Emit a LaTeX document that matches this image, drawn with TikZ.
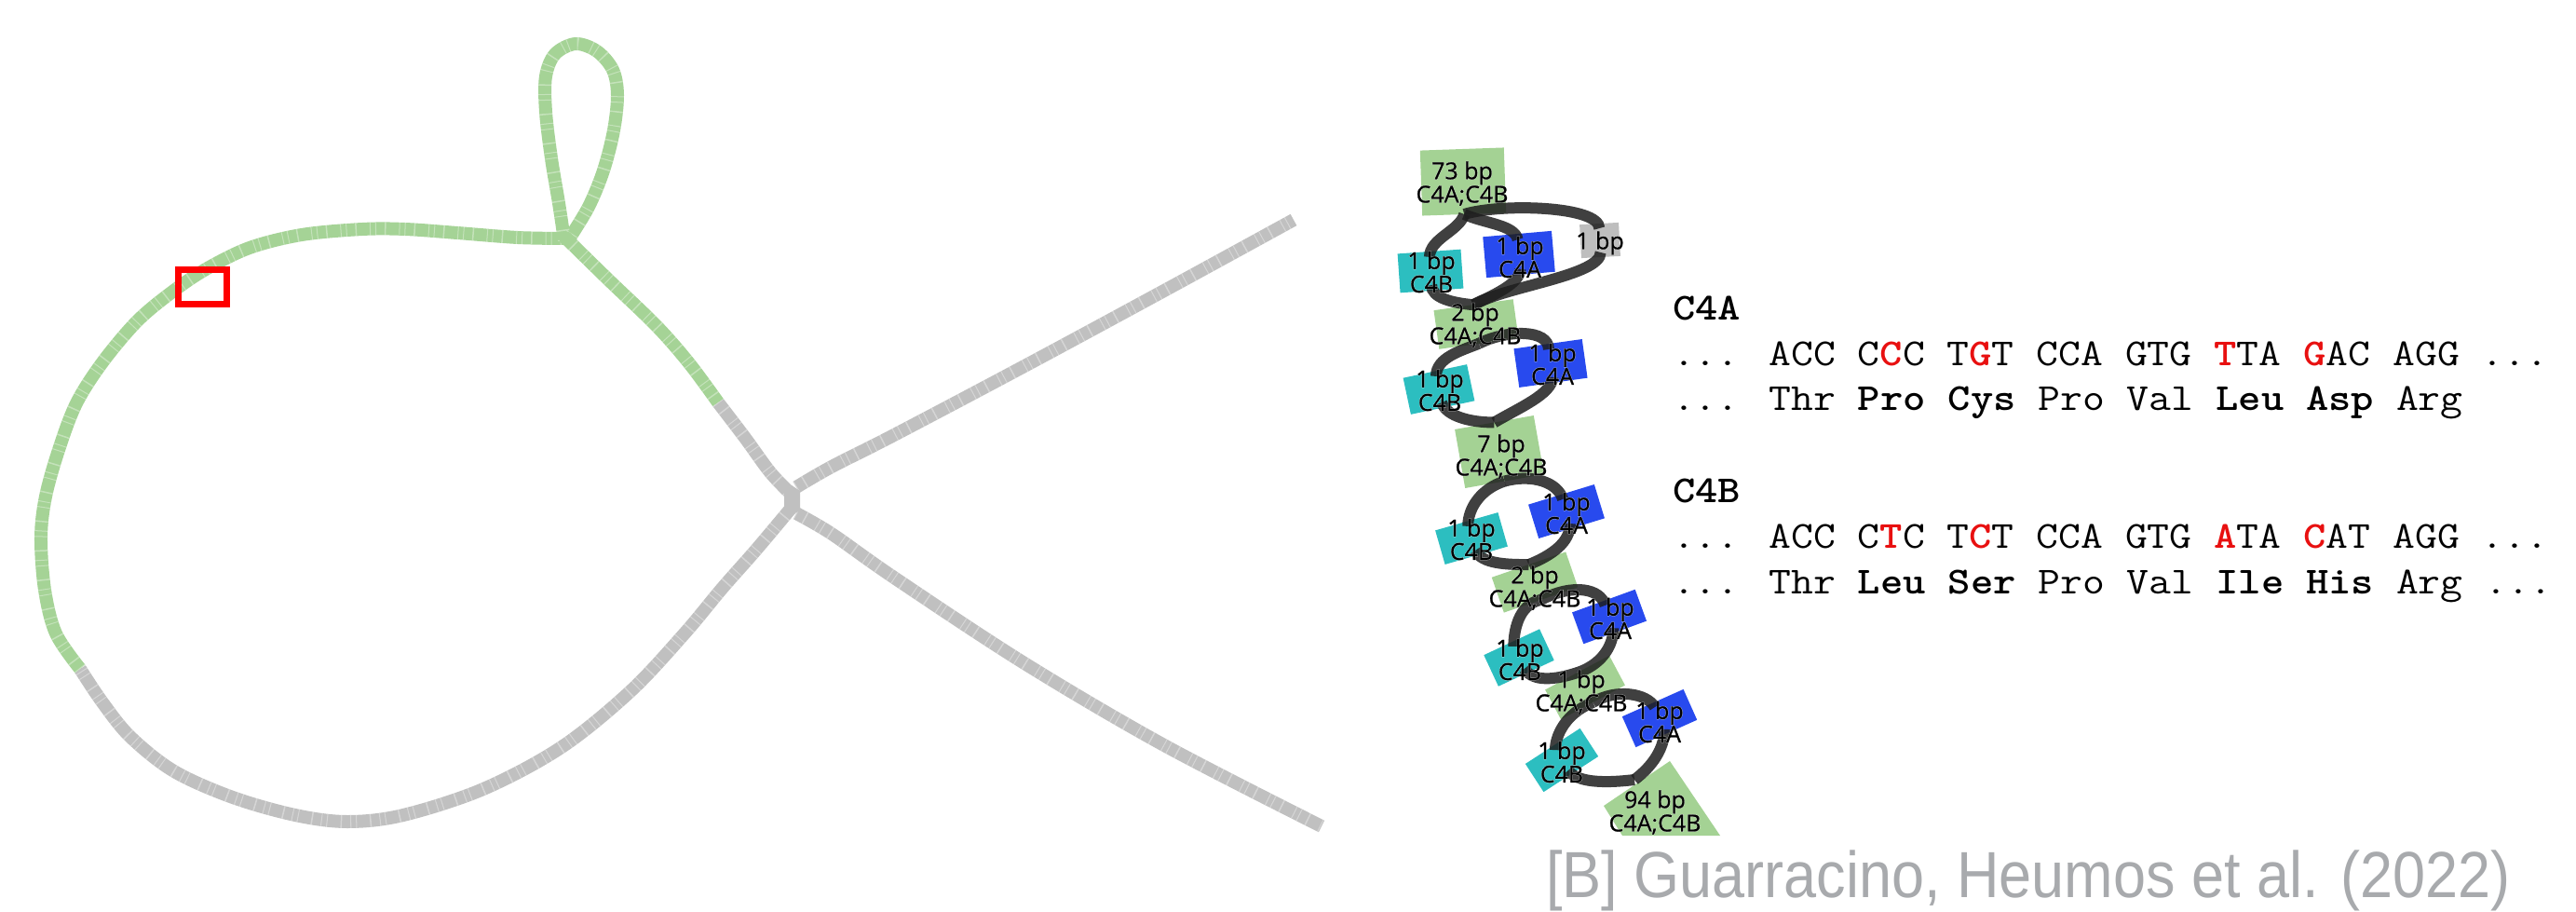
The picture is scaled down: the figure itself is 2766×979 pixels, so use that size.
\documentclass[tikz,border=0pt]{standalone}
\usepackage{fontspec}
\newfontfamily\lblfont{Open Sans}[FakeBold=1]
\newfontfamily\halofont{Open Sans}[FakeBold=3.5]
\newfontfamily\capfont{Liberation Sans}
\usetikzlibrary{calc}

\definecolor{graphgreen}{RGB}{165,211,150}
\definecolor{graphgray}{RGB}{192,192,192}
\definecolor{nodegreen}{RGB}{164,210,148}
\definecolor{nodeteal}{RGB}{44,190,192}
\definecolor{nodeblue}{RGB}{40,74,238}
\definecolor{nodegray}{RGB}{190,190,190}
\definecolor{linkdark}{RGB}{30,30,30}
\definecolor{mutred}{RGB}{232,16,16}
\definecolor{capgray}{RGB}{168,170,173}

\newcommand\mut[1]{\textcolor{mutred}{\textbf{#1}}}
% label with a white halo underneath
\newcommand\lab[3]{\node[halo] (#1h) at #2 {#3}; \node[lbl] (#1) at #2 {#3};}

\begin{document}
\begin{tikzpicture}[x=1pt,y=-1pt,
  grain/.style={postaction={draw=white, draw opacity=0.35, line width=14pt, dash pattern=on 1pt off 9pt on 1.5pt off 14pt on 1pt off 5pt}},
  greenline/.style={draw=graphgreen, line width=14pt, line cap=butt, line join=round, grain},
  grayline/.style={draw=graphgray, line width=14pt, line cap=butt, line join=round, grain},
  blk/.style n args={3}{fill=#1, minimum width=#2, minimum height=#3, inner sep=0pt, outer sep=0pt},
  link/.style={draw=linkdark, draw opacity=0.85, line width=12pt, line cap=butt},
  lbl/.style={font=\lblfont\fontsize{25}{23}\selectfont, align=center, inner sep=0pt},
  halo/.style={font=\halofont\fontsize{25}{23}\selectfont, align=center, inner sep=0pt, text=white, opacity=0.8},
  seq/.style={font=\ttfamily\fontsize{41}{49}\selectfont, anchor=base west, inner sep=0pt, outer sep=0pt, xscale=1.13},
]
\useasboundingbox (0,0) rectangle (2766,979);

% ---------------- graph overview ----------------
\coordinate (J) at (608,256);
\coordinate (C) at (852,537);

% grey part of the big cycle and the two tips
\draw[grayline] plot[smooth, tension=0.55] coordinates {(849,546) (812,590) (775,632) (735,680) (677,742) (603,802) (519,847) (433,875) (373,882) (317,875) (250,856) (187,828) (140,791) (110,754) (86,718)};
\draw[grayline] plot[smooth, tension=0.55] coordinates {(771,432) (800,470) (827,507) (849,530)};
\draw[grayline] plot[smooth, tension=0.55] coordinates {(855,523) (893,501) (960,467) (1100,393) (1250,312) (1389,236)};
\draw[grayline] plot[smooth, tension=0.55] coordinates {(855,551) (893,573) (960,620) (1100,712) (1250,800) (1419,887)};
\fill[graphgray] (842,528) -- (850,521) -- (859,527) -- (859,548) -- (852,552) -- (842,547) -- cycle;

% green part: upper arc, small loop, and the run towards the hub
\draw[greenline] plot[smooth, tension=0.55] coordinates {(86,718) (60,680) (48,633) (44,577) (49,533) (63,483) (82,433) (110,389) (147,345) (184,314) (221,289) (268,266) (324,252) (389,246) (435,246) (491,250) (556,255) (J)};
\draw[greenline] plot[smooth, tension=0.55] coordinates {(606,258) (600,218) (592,170) (586,120) (586,82) (596,58) (618,47) (641,55) (658,75) (663,102) (659,140) (648,183) (632,222) (610,258)};
\draw[greenline] plot[smooth, tension=0.55] coordinates {(J) (653,300) (705,350) (740,390) (771,432)};
\fill[graphgreen] (J) circle (7.5);

% highlighted region
\draw[red, line width=7pt] (191.5,289.5) rectangle (243.5,326.5);

% ---------------- bubble chain ----------------
\node[blk={nodegreen}{90pt}{70pt}, rotate=2] (g73) at (1571,195) {};
\node[blk={nodeteal}{68pt}{42pt}, rotate=4] (t1) at (1536,291) {};
\node[blk={nodeblue}{74pt}{44pt}, rotate=5] (b1) at (1631,273) {};
\node[blk={nodegray}{42pt}{36pt}, rotate=3] (x1) at (1718,258) {};
\node[blk={nodegreen}{86pt}{42pt}, rotate=8] (g2a) at (1585,348) {};
\node[blk={nodeblue}{74pt}{42pt}, rotate=8] (b2) at (1665,390) {};
\node[blk={nodeteal}{70pt}{40pt}, rotate=12] (t2) at (1545,418) {};
\node[blk={nodegreen}{86pt}{64pt}, rotate=10] (g7) at (1610,485) {};
\node[blk={nodeblue}{74pt}{38pt}, rotate=17] (b3) at (1682,549) {};
\node[blk={nodeteal}{70pt}{38pt}, rotate=16] (t3) at (1580,578) {};
\node[blk={nodegreen}{84pt}{40pt}, rotate=19] (g2b) at (1648,625) {};
\node[blk={nodeblue}{72pt}{36pt}, rotate=20] (b4) at (1728,662) {};
\node[blk={nodeteal}{66pt}{37pt}, rotate=25] (t4) at (1631,706) {};
\node[blk={nodegreen}{78pt}{36pt}, rotate=28] (g1) at (1702,738) {};
\node[blk={nodeblue}{72pt}{36pt}, rotate=24] (b5) at (1782,771) {};
\node[blk={nodeteal}{70pt}{36pt}, rotate=33] (t5) at (1677,816) {};
\fill[nodegreen] (1722,865) -- (1793,817) -- (1847,897) -- (1742,897) -- cycle;
\coordinate (g94) at (1755,837);

% entry and exit points of the one-base nodes
\foreach \n in {t1,b1,x1,b2,t2,b3,t3,b4,t4,b5,t5}{
  \coordinate (\n-in) at ($(\n.north)!0.14!(\n.south)$);
  \coordinate (\n-out) at ($(\n.south)!0.14!(\n.north)$);
}

% links between node ends
\draw[link] (g73.south) .. controls ($(g73.south)+(-5,18)$) and ($(t1-in)+(0,-20)$) .. (t1-in);
\draw[link] (g73.south) .. controls ($(g73.south)+(22,10)$) and ($(b1-in)+(-3,-16)$) .. (b1-in);
\draw[link] (g73.south) .. controls ($(g73.south)+(40,-12)$) and ($(x1-in)+(0,-24)$) .. (x1-in);
\draw[link] (t1-out) .. controls ($(t1-out)+(0,14)$) and ($(g2a.north)+(-22,-2)$) .. (g2a.north);
\draw[link] (b1-out) .. controls ($(b1-out)+(0,15)$) and ($(g2a.north)+(25,-12)$) .. (g2a.north);
\draw[link] (x1-out) .. controls ($(x1-out)+(0,25)$) and ($(g2a.north)+(35,-20)$) .. (g2a.north);

\draw[link] (g2a.south) .. controls ($(g2a.south)+(-20,8)$) and ($(t2-in)+(0,-20)$) .. (t2-in);
\draw[link] (g2a.south) .. controls ($(g2a.south)+(30,-15)$) and ($(b2-in)+(0,-22)$) .. (b2-in);
\draw[link] (t2-out) .. controls ($(t2-out)+(5,15)$) and ($(g7.north)+(-25,0)$) .. (g7.north);
\draw[link] (b2-out) .. controls ($(b2-out)+(0,18)$) and ($(g7.north)+(25,-15)$) .. (g7.north);

\draw[link] (g7.south) .. controls ($(g7.south)+(-25,8)$) and ($(t3-in)+(0,-20)$) .. (t3-in);
\draw[link] (g7.south) .. controls ($(g7.south)+(30,-8)$) and ($(b3-in)+(-5,-18)$) .. (b3-in);
\draw[link] (t3-out) .. controls ($(t3-out)+(8,14)$) and ($(g2b.north)+(-25,0)$) .. (g2b.north);
\draw[link] (b3-out) .. controls ($(b3-out)+(0,20)$) and ($(g2b.north)+(25,-10)$) .. (g2b.north);

\draw[link] (g2b.south) .. controls ($(g2b.south)+(-25,5)$) and ($(t4-in)+(0,-15)$) .. (t4-in);
\draw[link] (g2b.south) .. controls ($(g2b.south)+(35,-18)$) and ($(b4-in)+(-5,-18)$) .. (b4-in);
\draw[link] (t4-out) .. controls ($(t4-out)+(10,14)$) and ($(g1.north)+(-25,8)$) .. (g1.north);
\draw[link] (b4-out) .. controls ($(b4-out)+(0,20)$) and ($(g1.north)+(25,-8)$) .. (g1.north);

\draw[link] (g1.south) .. controls ($(g1.south)+(-30,12)$) and ($(t5-in)+(0,-15)$) .. (t5-in);
\draw[link] (g1.south) .. controls ($(g1.south)+(25,-15)$) and ($(b5-in)+(-8,-15)$) .. (b5-in);
\draw[link] (t5-out) .. controls ($(t5-out)+(10,15)$) and ($(g94)+(-25,3)$) .. (g94);
\draw[link] (b5-out) .. controls ($(b5-out)+(0,20)$) and ($(g94)+(20,-15)$) .. (g94);

% node labels
\lab{l73}{(1570,197)}{73 bp\\C4A;C4B}
\lab{lt1}{(1537,292)}{1 bp\\C4B}
\lab{lb1}{(1632,276)}{1 bp\\C4A}
\lab{lx1}{(1718,261)}{1 bp}
\lab{lg2a}{(1584,349)}{2 bp\\C4A;C4B}
\lab{lb2}{(1667,391)}{1 bp\\C4A}
\lab{lt2}{(1546,419)}{1 bp\\C4B}
\lab{lg7}{(1612,490)}{7 bp\\C4A;C4B}
\lab{lb3}{(1682,551)}{1 bp\\C4A}
\lab{lt3}{(1580,579)}{1 bp\\C4B}
\lab{lg2b}{(1648,631)}{2 bp\\C4A;C4B}
\lab{lb4}{(1729,664)}{1 bp\\C4A}
\lab{lt4}{(1632,708)}{1 bp\\C4B}
\lab{lg1}{(1698,743)}{1 bp\\C4A;C4B}
\lab{lb5}{(1782,775)}{1 bp\\C4A}
\lab{lt5}{(1677,818)}{1 bp\\C4B}
\lab{lg94}{(1777,872)}{94 bp\\C4A;C4B}

% ---------------- sequences ----------------
\node[seq] (hA) at (1796,343) {\textbf{C4A}};
\node[seq] (sA) at (1796,392) {... ACC C\mut{C}C T\mut{G}T CCA GTG \mut{T}TA \mut{G}AC AGG ...};
\node[seq] (pA) at (1796,440) {... Thr \textbf{Pro} \textbf{Cys} Pro Val \textbf{Leu} \textbf{Asp} Arg};
\node[seq] (hB) at (1796,539) {\textbf{C4B}};
\node[seq] (sB) at (1796,588) {... ACC C\mut{T}C T\mut{C}T CCA GTG \mut{A}TA \mut{C}AT AGG ...};
\node[seq] (pB) at (1796,637) {... Thr \textbf{Leu} \textbf{Ser} Pro Val \textbf{Ile} \textbf{His} Arg ...};

% ---------------- citation ----------------
\node[anchor=base west, inner sep=0pt, xscale=0.9, text=capgray, font=\capfont\fontsize{70}{78}\selectfont] (cite) at (1660,963) {[B] Guarracino, Heumos et al. (2022)};
\end{tikzpicture}
\end{document}
